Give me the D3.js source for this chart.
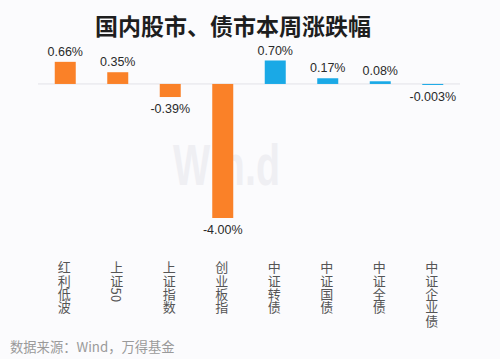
<!DOCTYPE html>
<html><head><meta charset="utf-8">
<script src="https://cdn.jsdelivr.net/npm/d3@7"></script>
<style>
html,body{margin:0;padding:0;background:#fbfbfd;}
svg{display:block;}
</style></head>
<body>
<svg id="c" width="500" height="359"></svg>
<script>
const categories = ["红利低波","上证50","上证指数","创业板指","中证转债","中证国债","中证全债","中证企业债"];
const values = [0.66, 0.35, -0.39, -4.00, 0.70, 0.17, 0.08, -0.003];
const valueLabels = ["0.66%","0.35%","-0.39%","-4.00%","0.70%","0.17%","0.08%","-0.003%"];
const groups = ["股","股","股","股","债","债","债","债"];
const title = "国内股市、债市本周涨跌幅";
const source = "数据来源：Wind，万得基金";

const svg = d3.select("#c");
const font = "'Liberation Sans', Arial, 'Noto Sans CJK SC', sans-serif";
const cjk = "'Noto Sans CJK SC', 'Liberation Sans', sans-serif";

svg.append("rect").attr("width",500).attr("height",359).attr("fill","#fbfbfd");

// watermark
svg.append("text").attr("x",173).attr("y",185).attr("font-family",font)
  .attr("font-size",58).attr("font-weight","bold").attr("fill","#efeff3")
  .attr("textLength",107).attr("lengthAdjust","spacingAndGlyphs").text("Win.d");

const x = d3.scaleBand().domain(categories).range([39,459]).paddingInner(0.6).paddingOuter(0.3);
const y = d3.scaleLinear().domain([-4,0.7]).range([218,60.5]);
const color = d3.scaleOrdinal().domain(["股","债"]).range(["#fa8128","#1aa9e6"]);

svg.append("text").attr("x",233).attr("y",35).attr("text-anchor","middle")
  .attr("font-family",cjk).attr("font-size",23).attr("font-weight","bold").attr("fill","#1e1e1e").text(title);

// zero line
svg.append("line").attr("x1",38).attr("x2",460).attr("y1",y(0)).attr("y2",y(0))
  .attr("stroke","#e2e2e8").attr("stroke-width",1);

svg.selectAll("rect.bar").data(values).join("rect").attr("class","bar")
  .attr("x",(d,i)=>x(categories[i]))
  .attr("width",x.bandwidth())
  .attr("y",d=>Math.min(y(d),y(0)))
  .attr("height",d=>Math.max(Math.abs(y(d)-y(0)),1))
  .attr("fill",(d,i)=>color(groups[i]));

svg.selectAll("text.val").data(values).join("text").attr("class","val")
  .attr("x",(d,i)=>x(categories[i])+x.bandwidth()/2)
  .attr("y",d=> d>=0 ? y(d)-6 : Math.max(y(d),y(0)+1)+16)
  .attr("text-anchor","middle").attr("font-family",font).attr("font-size",12.5)
  .attr("fill","#2a2a2a").text((d,i)=>valueLabels[i]);

// category labels vertical
svg.selectAll("text.cat").data(categories).join("text").attr("class","cat")
  .attr("x",d=>x(d)+x.bandwidth()/2-1)
  .attr("y",261)
  .attr("font-family",cjk).attr("font-size",13).attr("fill","#555")
  .style("writing-mode","vertical-rl").style("text-orientation","mixed")
  .attr("letter-spacing",0.3)
  .text(d=>d);

svg.append("text").attr("x",10).attr("y",352).attr("font-family",cjk)
  .attr("font-size",13.3).attr("fill","#9a9a9a").text(source);
</script>
</body></html>
